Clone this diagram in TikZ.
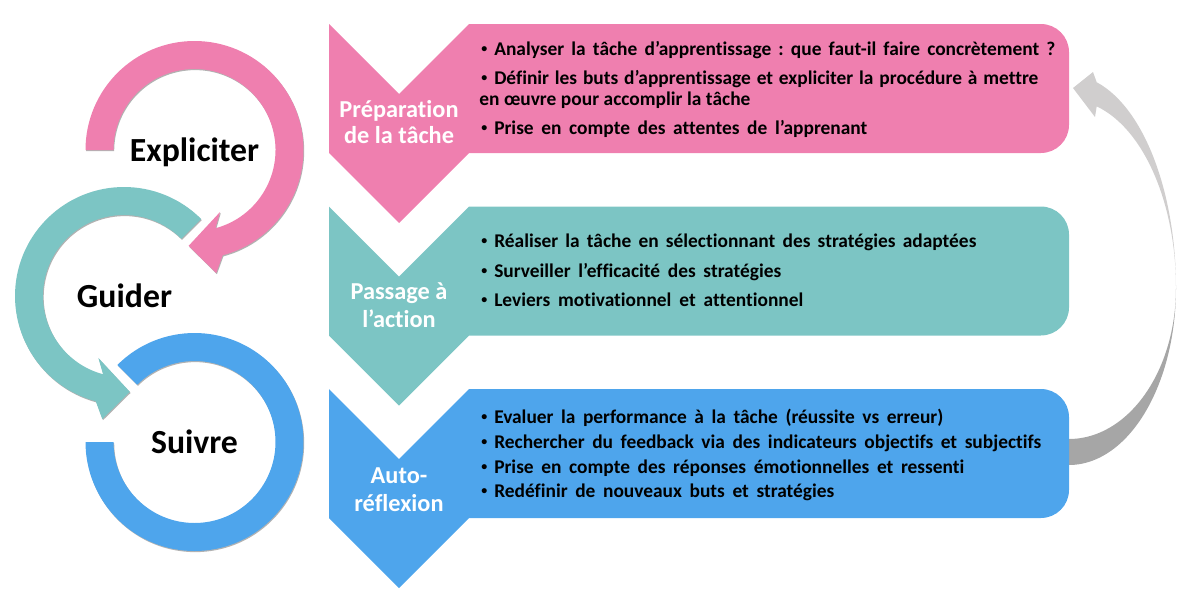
\documentclass[tikz,border=0pt]{standalone}
\usepackage{fontspec}
\setmainfont{Carlito}[Ligatures=NoCommon]
\usetikzlibrary{shadows}
\frenchspacing

\definecolor{rose}{HTML}{EF7FAF}
\definecolor{turquoise}{HTML}{7CC5C4}
\definecolor{bleu}{HTML}{4EA5EC}
\definecolor{grisfonce}{HTML}{A6A6A6}
\definecolor{grisclair}{HTML}{D0CECE}

% petite puce et ligne justifiee
\newcommand{\rond}{{\fontsize{8.5}{9}\selectfont\raisebox{1.7pt}{•}}\hspace{5pt}}
\newcommand{\ligne}[2]{\makebox[#1pt][s]{#2}}

\begin{document}
\begin{tikzpicture}[x=0.025cm,y=0.025cm,
  etape/.style={font=\fontsize{24}{28}\selectfont\bfseries, text=black, inner sep=0pt, anchor=base},
  phase/.style={font=\fontsize{17.3}{20}\selectfont\bfseries, text=white, inner sep=0pt, anchor=base},
  puce/.style={font=\fontsize{13.8}{16}\selectfont\bfseries, text=black, inner sep=0pt, anchor=base west},
  ombre/.style={drop shadow={shadow xshift=0.5pt, shadow yshift=-0.8pt, opacity=0.3, fill=black}}]
\useasboundingbox (0,0) rectangle (1192,-599);

% fleche grise de retour (bleu -> rose)
\fill[grisfonce] (1069,-288) ++(-100:107 and 177) arc[start angle=-100, end angle=0, x radius=107, y radius=177]
  arc[start angle=0, end angle=-100, x radius=107, y radius=151] -- cycle;
\fill[grisclair] (1176,-288) arc[start angle=0, end angle=75, x radius=107, y radius=213]
  -- (1093,-72) -- (1073,-88) -- (1095,-117) -- (1096.7,-106.4)
  arc[start angle=75, end angle=0, x radius=107, y radius=188] -- cycle;

% les trois phases
\fill[rose] (329,-24) -- (399,-94) -- (469,-24) [rounded corners=20] -- (1069,-24) -- (1069,-153)
  [sharp corners] -- (469,-153) -- (399,-223) -- (329,-153) -- cycle;
\fill[turquoise] (329,-206.5) -- (399,-276.5) -- (469,-206.5) [rounded corners=20] -- (1069,-206.5) -- (1069,-335.5)
  [sharp corners] -- (469,-335.5) -- (399,-405.5) -- (329,-335.5) -- cycle;
\fill[bleu] (329,-389) -- (399,-459) -- (469,-389) [rounded corners=20] -- (1069,-389) -- (1069,-518)
  [sharp corners] -- (469,-518) -- (399,-588) -- (329,-518) -- cycle;

% fleches circulaires
\fill[bleu, ombre, shift={(194.5,-442)}] (135:109) arc[start angle=135, end angle=-180, radius=109]
  -- (180:81) arc[start angle=180, end angle=495, radius=81] -- cycle;
\fill[turquoise, ombre, shift={(124,-296)}] (45:109) arc[start angle=45, end angle=255, radius=109]
  -- (260:125) -- (273.5:96) -- (247.5:67) -- (255:81) arc[start angle=255, end angle=45, radius=81] -- cycle;
\fill[rose, ombre, shift={(194.5,-150)}] (180:109) arc[start angle=180, end angle=-75, radius=109]
  -- (-80:125) -- (-93.5:96) -- (-67.5:67) -- (-75:81) arc[start angle=-75, end angle=180, radius=81] -- cycle;

\node[etape] (expliciter) at (194.5,-161) {Expliciter};
\node[etape] (guider) at (124.5,-307) {Guider};
\node[etape] (suivre) at (194.5,-453) {Suivre};

\node[phase] (prep1) at (399,-117) {Préparation};
\node[phase] (prep2) at (399,-143) {de la tâche};
\node[phase] (pass1) at (399,-299) {Passage à};
\node[phase] (pass2) at (399,-327) {l’action};
\node[phase] (auto1) at (399,-483) {Auto-};
\node[phase] (auto2) at (399,-511) {réflexion};

\node[puce] (prepA) at (481,-55) {\ligne{408.3}{\rond Analyser la tâche d’apprentissage : que faut-il faire concrètement ?}};
\node[puce] (prepB) at (481,-84) {\ligne{396.2}{\rond Définir les buts d’apprentissage et expliciter la procédure à mettre}};
\node[puce] (prepC) at (479,-105) {\ligne{192.8}{en œuvre pour accomplir la tâche}};
\node[puce] (prepD) at (481,-134) {\ligne{274.6}{\rond Prise en compte des attentes de l’apprenant}};

\node[puce] (passA) at (481,-247) {\ligne{352.1}{\rond Réaliser la tâche en sélectionnant des stratégies adaptées}};
\node[puce] (passB) at (481,-277) {\ligne{213.4}{\rond Surveiller l’efficacité des stratégies}};
\node[puce] (passC) at (481,-306) {\ligne{229.0}{\rond Leviers motivationnel et attentionnel}};

\node[puce] (autoA) at (481,-423) {\ligne{328.6}{\rond Evaluer la performance à la tâche (réussite vs erreur)}};
\node[puce] (autoB) at (481,-448) {\ligne{398.3}{\rond Rechercher du feedback via des indicateurs objectifs et subjectifs}};
\node[puce] (autoC) at (481,-473) {\ligne{343.6}{\rond Prise en compte des réponses émotionnelles et ressenti}};
\node[puce] (autoD) at (481,-497) {\ligne{251.1}{\rond Redéfinir de nouveaux buts et stratégies}};
\end{tikzpicture}
\end{document}
